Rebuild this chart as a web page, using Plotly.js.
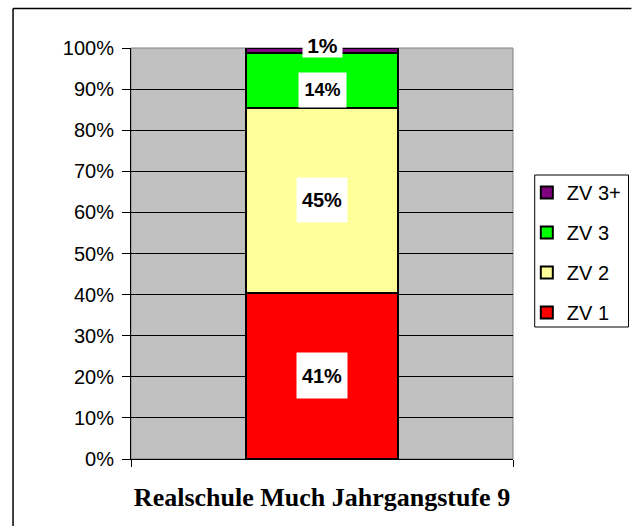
<!DOCTYPE html>
<html>
<head>
<meta charset="utf-8">
<script src="https://cdn.plot.ly/plotly-3.0.1.min.js"></script>
<style>
  html, body { margin: 0; padding: 0; background: #fff; overflow: hidden; }
  #chart { width: 638px; height: 526px; }
</style>
</head>
<body>
<div id="chart"></div>
<script>
// ---- data ----
var categories = ['Jahrgangstufe 9'];
var seriesNames = ['ZV 1', 'ZV 2', 'ZV 3', 'ZV 3+'];
var zv1 = [40.5];
var zv2 = [45.0];
var zv3 = [13.4];
var zv3plus = [1.1];
var labels = ['41%', '45%', '14%', '1%'];
var yTickVals = [0, 10, 20, 30, 40, 50, 60, 70, 80, 90, 100];
var yTickText = ['0%', '10%', '20%', '30%', '40%', '50%', '60%', '70%', '80%', '90%', '100%'];
var chartTitle = 'Realschule Much Jahrgangstufe 9';

// ---- styles ----
var colors = ['#FF0000', '#FFFF99', '#00FF00', '#800080'];
var series = [zv1, zv2, zv3, zv3plus];

var traces = series.map(function (vals, i) {
  return {
    type: 'bar',
    name: seriesNames[i],
    x: categories,
    y: vals,
    width: 0.4,
    legendgroup: 'g' + i,
    legendrank: 100 * (series.length - i),
    marker: { color: colors[i], line: { color: '#000', width: 2 } },
    hoverinfo: 'none'
  };
});

// label positions from the data (centre of each stacked segment)
var total = series.reduce(function (s, v) { return s + v[0]; }, 0);
var cum = 0;
var labelFont = [20, 20, 18, 21];
var boxW = [50, 50, 47, 39];
var boxH = [45, 44, 34, 24];
var shiftY = [0, 0, -10, 5];
var annotations = series.map(function (vals, i) {
  var v = vals[0] / total * 100;
  var mid = cum + v / 2;
  cum += v;
  return {
    x: categories[0], y: mid, xref: 'x', yref: 'y',
    text: '<b>' + labels[i] + '</b>',
    showarrow: false,
    bgcolor: '#FFFFFF',
    borderpad: 0,
    width: boxW[i], height: boxH[i],
    yshift: shiftY[i],
    font: { family: 'Liberation Sans, Arial, sans-serif', size: labelFont[i], color: '#000' }
  };
});

// plot-area geometry in pixels
var W = 638, H = 526;
var L = 131, R = 518, T = 48, B = 459;
function px(x) { return (x - L) / (R - L); }
function py(y) { return (B - y) / (B - T); }

var layout = {
  width: W, height: H,
  margin: { l: L, r: W - R, t: T, b: H - B, pad: 0 },
  paper_bgcolor: '#FFFFFF',
  plot_bgcolor: '#C0C0C0',
  barmode: 'stack',
  barnorm: 'percent',
  showlegend: true,
  font: { family: 'Liberation Sans, Arial, sans-serif', color: '#000' },
  title: {
    text: '<b>' + chartTitle + '</b>',
    font: { family: 'Liberation Serif, Times New Roman, serif', size: 26, color: '#000' },
    xref: 'paper', x: 0.5, xanchor: 'center',
    yref: 'container', y: 1 - 497 / H, yanchor: 'middle'
  },
  xaxis: {
    type: 'category',
    showticklabels: false,
    showgrid: false,
    zeroline: false,
    showline: true, linecolor: '#000', linewidth: 1,
    ticks: 'outside', tickson: 'boundaries', ticklen: 7, tickcolor: '#000', tickwidth: 1,
    fixedrange: true
  },
  yaxis: {
    range: [0, 100],
    tickvals: yTickVals,
    ticktext: yTickText,
    tickfont: { family: 'Liberation Sans, Arial, sans-serif', size: 20, color: '#000' },
    ticks: 'outside', ticklen: 8, tickcolor: '#000', tickwidth: 1,
    ticklabelstandoff: 4,
    showgrid: true, gridcolor: '#000', gridwidth: 1,
    zeroline: false,
    showline: true, linecolor: '#000', linewidth: 1,
    fixedrange: true
  },
  legend: {
    x: px(532), xanchor: 'left',
    y: py(173), yanchor: 'top',
    bgcolor: 'rgba(0,0,0,0)',
    borderwidth: 0,
    traceorder: 'grouped',
    tracegroupgap: 11,
    font: { family: 'Liberation Sans, Arial, sans-serif', size: 20, color: '#000' }
  },
  annotations: annotations,
  shapes: [
    // plot area border (grey)
    { type: 'rect', xref: 'paper', yref: 'paper', x0: 0, x1: 1, y0: 0, y1: 1,
      line: { color: '#808080', width: 1 }, layer: 'below' },
    // legend box
    { type: 'rect', xref: 'paper', yref: 'paper',
      x0: px(540), x1: px(635), y0: py(327), y1: py(175),
      line: { color: '#000', width: 1 }, fillcolor: 'rgba(0,0,0,0)' },
    // outer chart frame: top and left edges (right/bottom fall outside the picture)
    { type: 'line', xref: 'paper', yref: 'paper',
      x0: px(11.5), x1: px(638), y0: py(8.5), y1: py(8.5),
      line: { color: '#000', width: 1.5 } },
    { type: 'line', xref: 'paper', yref: 'paper',
      x0: px(11.5), x1: px(11.5), y0: py(8.5), y1: py(526),
      line: { color: '#000', width: 1.5 } }
  ]
};

Plotly.newPlot('chart', traces, layout, { displayModeBar: false, staticPlot: true });
</script>
</body>
</html>
